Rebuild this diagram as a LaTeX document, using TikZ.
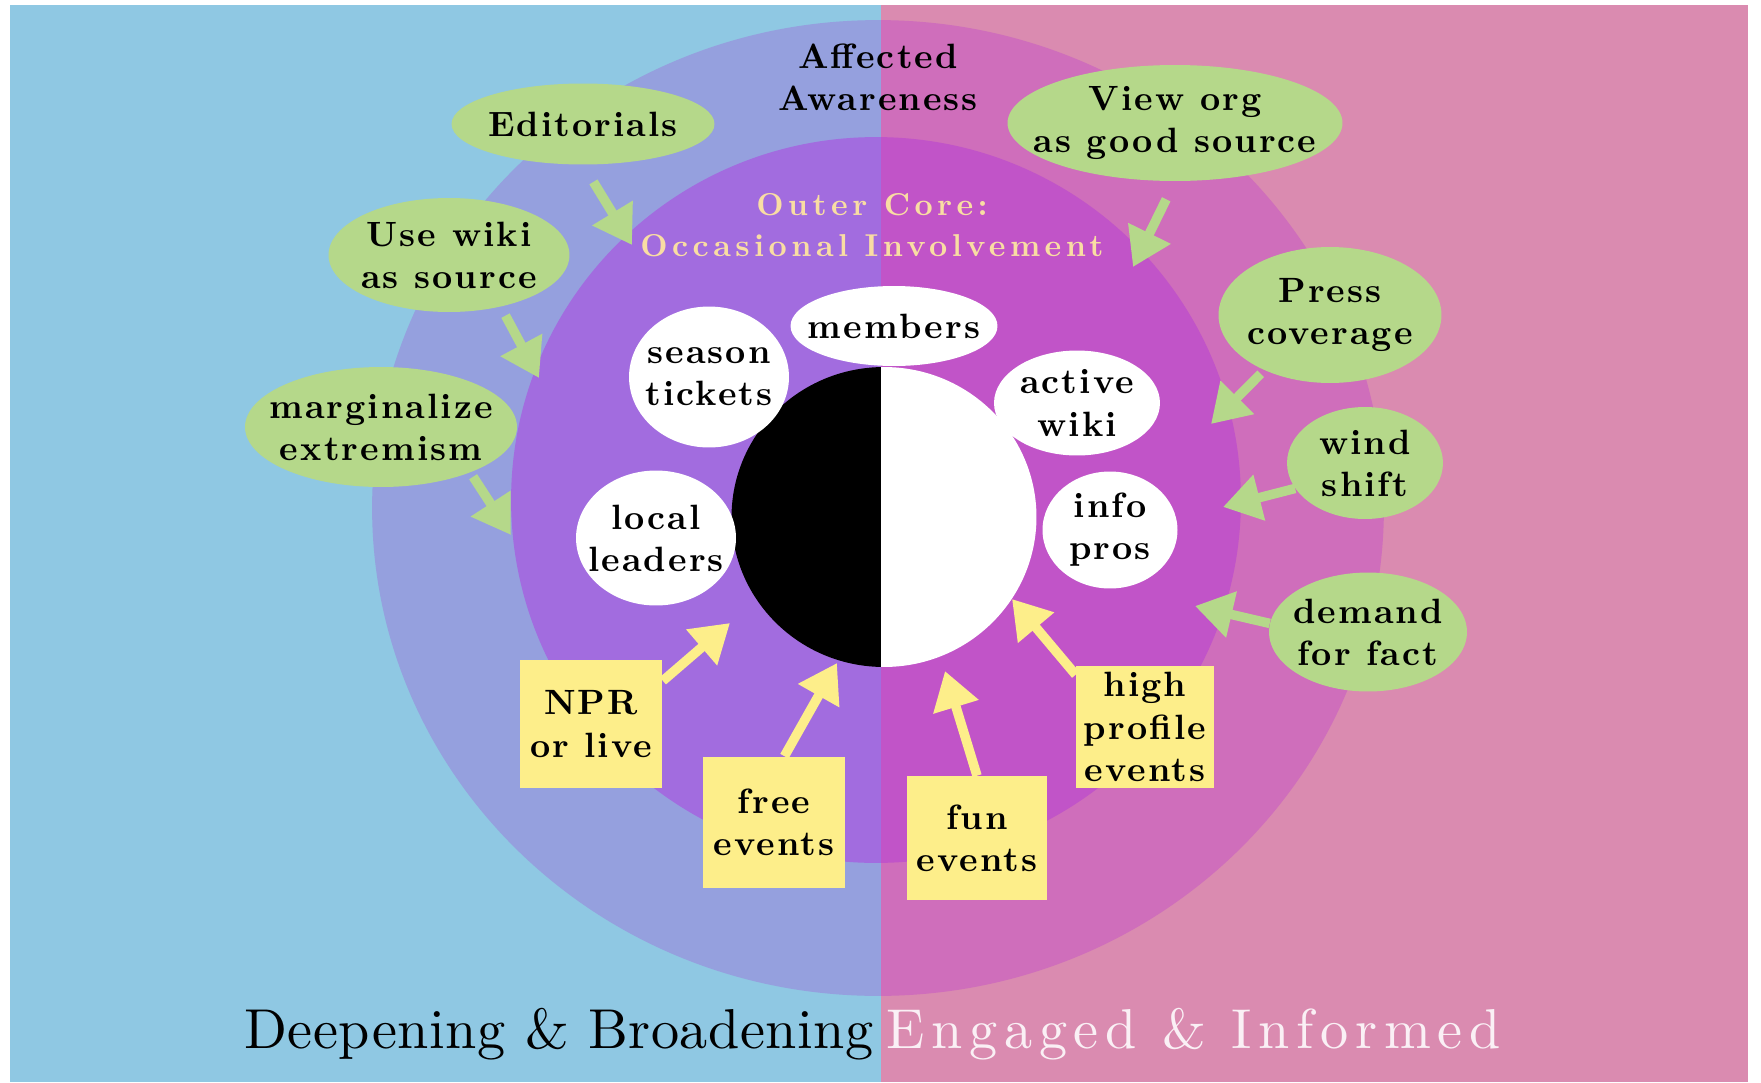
\documentclass[tikz,border=0pt]{standalone}
\usepackage{fontspec}
\usepackage{tikz}
\usetikzlibrary{shapes.geometric,arrows.meta,positioning}

\newfontfamily\bubfam{lmroman10-bold.otf}[LetterSpace=6]
\newfontfamily\ringfam{lmroman10-bold.otf}[LetterSpace=14]
\newfontfamily\bigfam{lmroman10-regular.otf}[LetterSpace=1]
\newfontfamily\engfam{lmroman10-regular.otf}[LetterSpace=12]

\definecolor{skyblue}{HTML}{8FC8E3}
\definecolor{rosebg}{HTML}{DA8BB0}
\definecolor{ringblue}{HTML}{95A0DE}
\definecolor{ringpink}{HTML}{CF6EBB}
\definecolor{coreviolet}{HTML}{A26CDF}
\definecolor{coremagenta}{HTML}{C154C8}
\definecolor{leafgreen}{HTML}{B5D88A}
\definecolor{notepad}{HTML}{FDEE8A}
\definecolor{cream}{HTML}{F9DDA3}
\definecolor{offwhite}{HTML}{FAF0F5}

\newcommand{\bubfont}{\bubfam\fontsize{20}{24}\selectfont}
\newcommand{\ringfont}{\ringfam\fontsize{18}{23}\selectfont}
\newcommand{\bigfont}{\bigfam\fontsize{32}{38}\selectfont}
\newcommand{\engfont}{\engfam\fontsize{32}{38}\selectfont}

\begin{document}
\begin{tikzpicture}[x=0.02cm,y=-0.02cm,
  txt/.style={align=center,font=\bubfont,inner sep=0pt},
  greenbub/.style={ellipse,fill=leafgreen,inner sep=0pt},
  whitebub/.style={ellipse,fill=white,inner sep=0pt},
  notebox/.style={rectangle,fill=notepad,inner sep=0pt,align=center,font=\bubfont},
  garrow/.style={draw=leafgreen,line width=0.19cm,-{Triangle[length=0.75cm,width=0.9cm]}},
  yarrow/.style={draw=notepad,line width=0.19cm,-{Triangle[length=0.75cm,width=0.9cm]}}]

% background halves
\fill[white] (0,0) rectangle (1761,1082);
\fill[skyblue] (10,5) rectangle (881,1082);
\fill[rosebg] (881,5) rectangle (1748,1082);

% rings, left half
\begin{scope}
\clip (0,0) rectangle (881,1082);
\fill[ringblue] (878,508) ellipse [x radius=10.12cm,y radius=9.76cm];
\fill[coreviolet] (876,500) ellipse [x radius=7.3cm,y radius=7.26cm];
\fill[black] (884,517) ellipse [x radius=3.05cm,y radius=3cm];
\end{scope}
% rings, right half
\begin{scope}
\clip (881,0) rectangle (1761,1082);
\fill[ringpink] (878,508) ellipse [x radius=10.12cm,y radius=9.76cm];
\fill[coremagenta] (876,500) ellipse [x radius=7.3cm,y radius=7.26cm];
\fill[white] (884,517) ellipse [x radius=3.05cm,y radius=3cm];
\end{scope}

\node[txt] (aware) at (878,77) {Affected\\Awareness};
\node[txt,font=\ringfont,text=cream] (outer) at (872,225) {Outer Core:\\Occasional Involvement};

% inner circle
\node[whitebub,minimum width=4.14cm,minimum height=1.6cm,label={[txt]center:members}] (w_members) at (894,326) {};
\node[whitebub,minimum width=3.2cm,minimum height=2.82cm,label={[txt]center:season\\tickets}] (w_season) at (709,377) {};
\node[whitebub,minimum width=3.32cm,minimum height=2.1cm,label={[txt]center:active\\wiki}] (w_active) at (1077,403) {};
\node[whitebub,minimum width=2.7cm,minimum height=2.34cm,label={[txt]center:info\\pros}] (w_info) at (1110,530) {};
\node[whitebub,minimum width=3.2cm,minimum height=2.7cm,label={[txt]center:local\\leaders}] (w_local) at (656,538) {};

% outer causes
\node[greenbub,minimum width=5.26cm,minimum height=1.62cm,label={[txt]center:Editorials}] (g_edit) at (583,124) {};
\node[greenbub,minimum width=4.82cm,minimum height=2.28cm,label={[txt]center:Use wiki\\as source}] (g_wiki) at (449,255) {};
\node[greenbub,minimum width=5.44cm,minimum height=2.4cm,label={[txt]center:marginalize\\extremism}] (g_margin) at (381,427) {};
\node[greenbub,minimum width=6.7cm,minimum height=2.32cm,label={[txt]center:View org\\as good source}] (g_view) at (1175,123) {};
\node[greenbub,minimum width=4.46cm,minimum height=2.72cm,label={[txt]center:Press\\coverage}] (g_press) at (1330,315) {};
\node[greenbub,minimum width=3.12cm,minimum height=2.24cm,label={[txt]center:wind\\shift}] (g_wind) at (1365,463) {};
\node[greenbub,minimum width=3.96cm,minimum height=2.38cm,label={[txt]center:demand\\for fact}] (g_demand) at (1368,632) {};

% events
\node[notebox,minimum width=2.86cm,minimum height=2.58cm] (y_npr) at (591,724) {NPR\\or live};
\node[notebox,minimum width=2.84cm,minimum height=2.62cm] (y_free) at (774,822) {free\\events};
\node[notebox,minimum width=2.8cm,minimum height=2.48cm] (y_fun) at (977,838) {fun\\events};
\node[notebox,minimum width=2.76cm,minimum height=2.44cm] (y_high) at (1145,727) {high\\profile\\events};

\coordinate (t_edit) at (632,245);
\coordinate (t_wiki) at (539,378);
\coordinate (t_margin) at (511,535);
\coordinate (t_view) at (1133,267);
\coordinate (t_press) at (1211,424);
\coordinate (t_wind) at (1223,507);
\coordinate (t_demand) at (1195,606);
\coordinate (t_npr) at (730,623);
\coordinate (t_free) at (837,663);
\coordinate (t_fun) at (945,671);
\coordinate (t_high) at (1012,599);

\path
(g_edit.south) edge[garrow,shorten <=0.4cm] (t_edit)
(g_wiki.-45) edge[garrow,shorten <=0.2cm] (t_wiki)
(g_margin.-27) edge[garrow,shorten <=0.1cm] (t_margin)
(g_view.south) edge[garrow,shorten <=0.4cm] (t_view)
(g_press.-140) edge[garrow,shorten <=0.1cm] (t_press)
(g_wind.200) edge[garrow] (t_wind)
(g_demand.175) edge[garrow] (t_demand)

(y_npr.31) edge[yarrow] (t_npr)
(y_free.81) edge[yarrow] (t_free)
(y_fun.north) edge[yarrow] (t_fun)
(y_high.143) edge[yarrow] (t_high)
; %end path

\node[font=\bigfont,anchor=base east,inner sep=0pt] (deep) at (874,1048) {Deepening \& Broadening};
\node[font=\engfont,text=offwhite,inner sep=0pt] (engaged) [base right=0.24cm of deep] {Engaged \& Informed};
\end{tikzpicture}
\end{document}
